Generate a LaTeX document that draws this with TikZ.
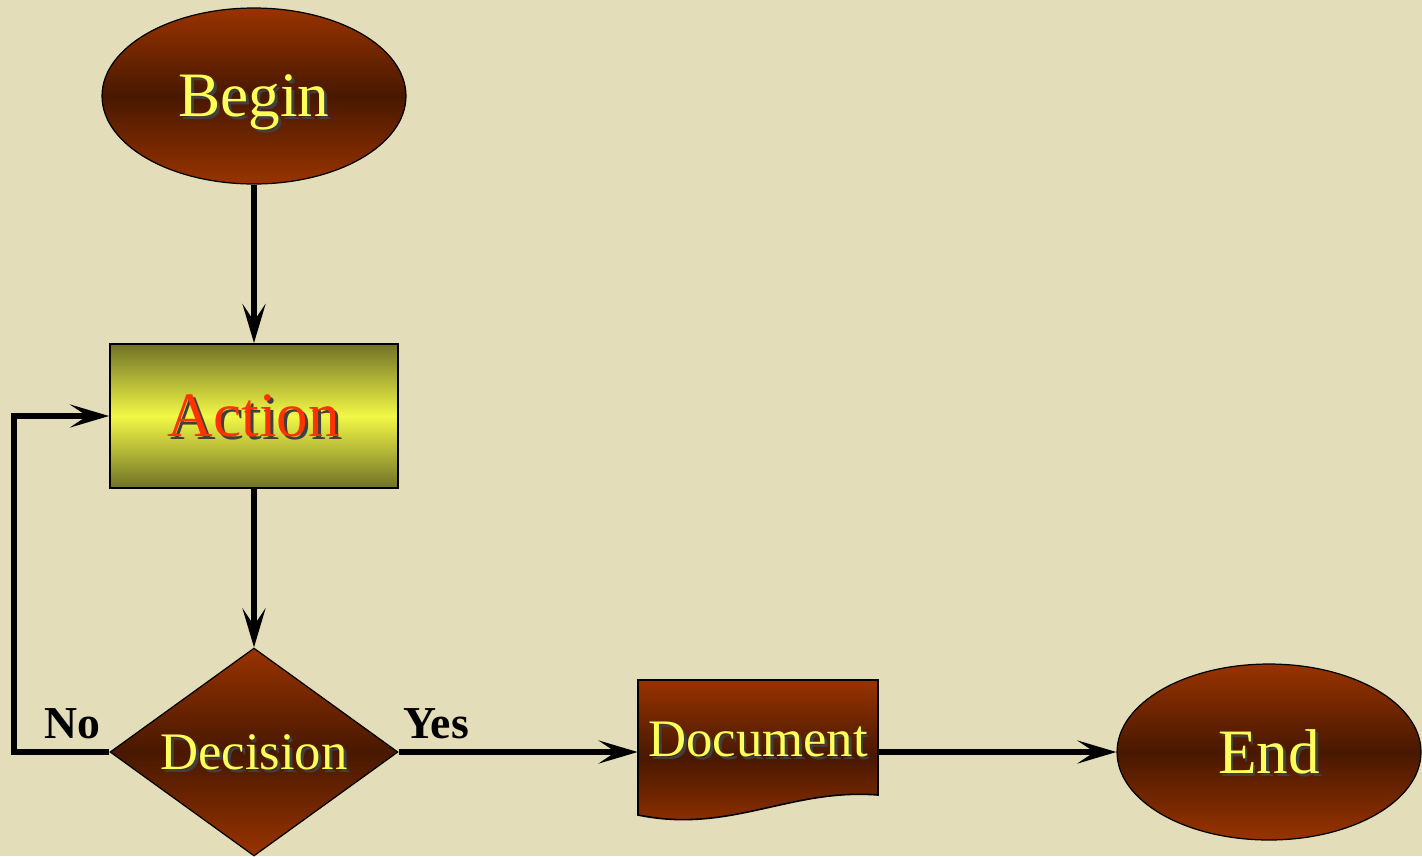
\documentclass[tikz,border=0pt]{standalone}
\usepackage{fontspec}
\setmainfont{Liberation Serif}
\usetikzlibrary{shapes.geometric, arrows.meta}

\definecolor{paper}{RGB}{228,221,186}
\definecolor{rust}{RGB}{153,51,0}
\definecolor{darkrust}{RGB}{72,24,0}
\definecolor{lemon}{RGB}{242,248,70}
\definecolor{olivedark}{RGB}{112,114,38}
\definecolor{textyellow}{RGB}{255,255,90}
\definecolor{textred}{RGB}{255,51,0}

% text with a small drop shadow
\newcommand{\shtxt}[1]{\makebox[0pt][l]{\hspace{1.6pt}\raisebox{-1.6pt}{\textcolor{black!75}{#1}}}#1}

\begin{document}
\begin{tikzpicture}[x=0.02cm, y=-0.02cm,
	oval/.style={draw, ellipse, line width=0.7pt, inner sep=0pt, text depth=0pt,
		minimum width=6.08cm, minimum height=3.52cm,
		top color=rust, bottom color=rust, middle color=darkrust,
		text=textyellow, font=\fontsize{36}{40}\selectfont},
	actbox/.style={draw, rectangle, line width=1.1pt, inner sep=0pt, text depth=0pt,
		minimum width=5.76cm, minimum height=2.88cm,
		top color=olivedark, bottom color=olivedark, middle color=lemon,
		text=textred, font=\fontsize{36}{40}\selectfont},
	decbox/.style={draw, diamond, shape aspect=1.385, line width=0.7pt, inner sep=0pt, text depth=0pt,
		minimum width=5.76cm, minimum height=4.16cm,
		top color=rust, bottom color=rust, middle color=darkrust,
		text=textyellow, font=\fontsize{30}{34}\selectfont},
	docbox/.style={rectangle, inner sep=0pt, text depth=0pt,
		minimum width=4.8cm, minimum height=2.3cm,
		text=textyellow, font=\fontsize{30}{34}\selectfont},
	lbl/.style={font=\bfseries\fontsize{26}{28}\selectfont},
	flow/.style={line width=3.8pt, -{Stealth[length=0.78cm, width=0.46cm, inset=0.34cm]}}]

		\useasboundingbox (0,0) rectangle (1422,856);
		\fill[paper] (0,0) rectangle (1422,856);

		\node[oval] (begin) at (254,96) {\shtxt{Begin}};
		\node[actbox] (act) at (254,416) {\shtxt{Action}};
		\node[decbox] (dec) at (254,752) {\shtxt{Decision}};

		\shade[draw=black, line width=0.9pt, top color=rust, bottom color=rust, middle color=darkrust]
			(638,680) -- (878,680) -- (878,795) .. controls (790,788) and (730,834) .. (638,815) -- cycle;
		\node[docbox] (doc) at (758,739) {\shtxt{Document}};

		\node[oval] (end) at (1269,752) {\shtxt{End}};

		\node[lbl] (no) at (72,724) {No};
		\node[lbl] (yes) at (436,724) {Yes};

		\draw[flow] (begin) -- (act);
		\draw[flow] (act) -- (dec);
		\draw[flow] (dec.east) -- (dec.east -| doc.west);
		\draw[flow] (doc.east |- end) -- (end);
		\draw[flow] (dec.west) -- (14,752) |- (act.west);

	\end{tikzpicture}
\end{document}
